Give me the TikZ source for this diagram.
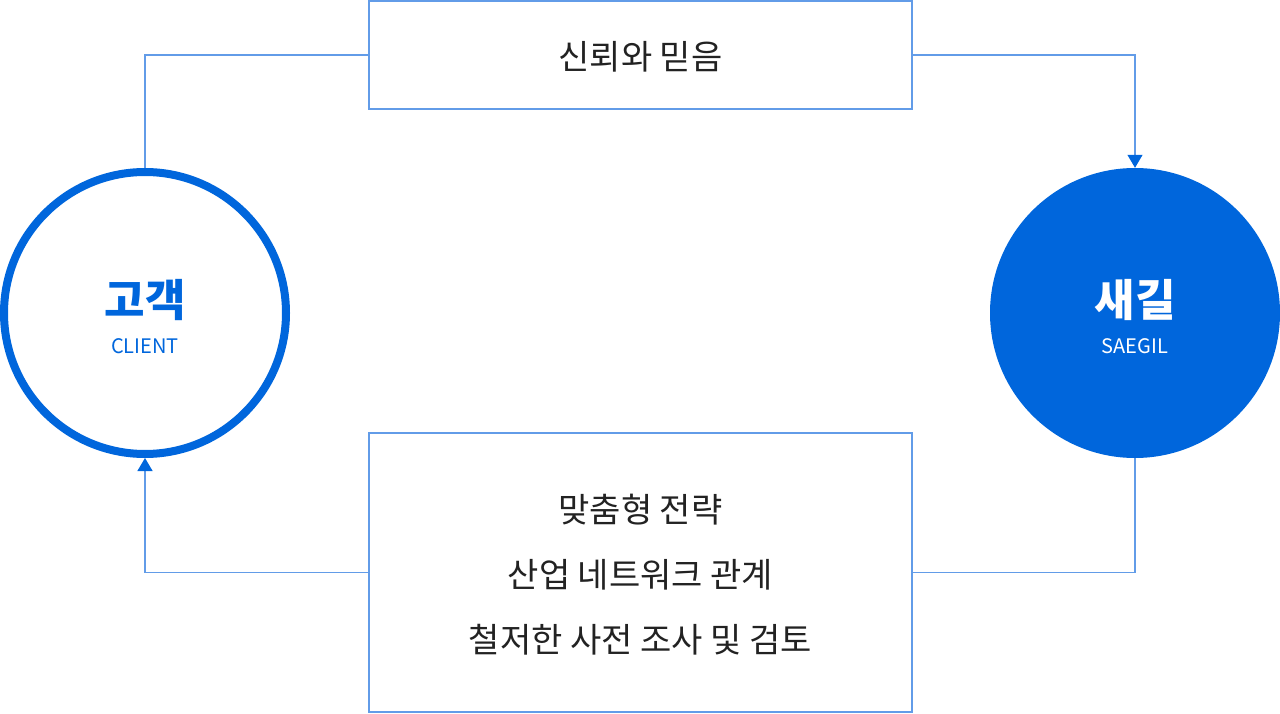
\documentclass[tikz,border=0pt]{standalone}
\usepackage{fontspec}
\setmainfont{Noto Sans CJK KR}
\usetikzlibrary{arrows.meta}

\definecolor{cblue}{RGB}{0,102,220}
\definecolor{clink}{RGB}{98,156,232}
\definecolor{ctext}{RGB}{34,34,34}

\begin{document}
\begin{tikzpicture}[x=1pt,y=-1pt,
    box/.style={draw=clink,line width=1.2pt,minimum width=543pt,inner sep=0pt},
    link/.style={draw=clink,line width=1.2pt},
    tip/.style={arrows={-Triangle[width=15pt,length=13pt,color=cblue]}},
    boxtext/.style={text=ctext,font=\fontsize{34}{40}\selectfont}]
      \useasboundingbox (0,0) rectangle (1280,714);

      % the two circles
      \node[circle,draw=cblue,line width=8pt,minimum size=282pt,inner sep=0pt] (client) at (145,313) {};
      \node[circle,fill=cblue,minimum size=290pt,inner sep=0pt] (saegil) at (1135,313) {};

      \node[text=cblue,font=\bfseries\fontsize{44}{50}\selectfont] (clientko) at (145,300) {고객};
      \node[text=cblue,font=\fontsize{20}{24}\selectfont] (clienten) at (145,346) {CLIENT};
      \node[text=white,font=\bfseries\fontsize{44}{50}\selectfont] (saegilko) at (1135,300) {새길};
      \node[text=white,font=\fontsize{20}{24}\selectfont] (saegilen) at (1135,346) {SAEGIL};

      % the two boxes
      \node[box,minimum height=108pt] (trust) at (640.5,55) {};
      \node[box,minimum height=279pt] (service) at (640.5,572.5) {};

      \node[boxtext] (trusttext) at (640.5,57) {신뢰와 믿음};
      \node[boxtext] (line1) at (640.5,510) {맞춤형 전략};
      \node[boxtext] (line2) at (640.5,575) {산업 네트워크 관계};
      \node[boxtext] (line3) at (640.5,640) {철저한 사전 조사 및 검토};

      % connectors
      \draw[link] (client.north) |- (trust.west);
      \draw[link,tip] (trust.east) -| (saegil.north);
      \draw[link] (saegil.south) |- (service.east);
      \draw[link,tip] (service.west) -| (client.south);
    \end{tikzpicture}
\end{document}
